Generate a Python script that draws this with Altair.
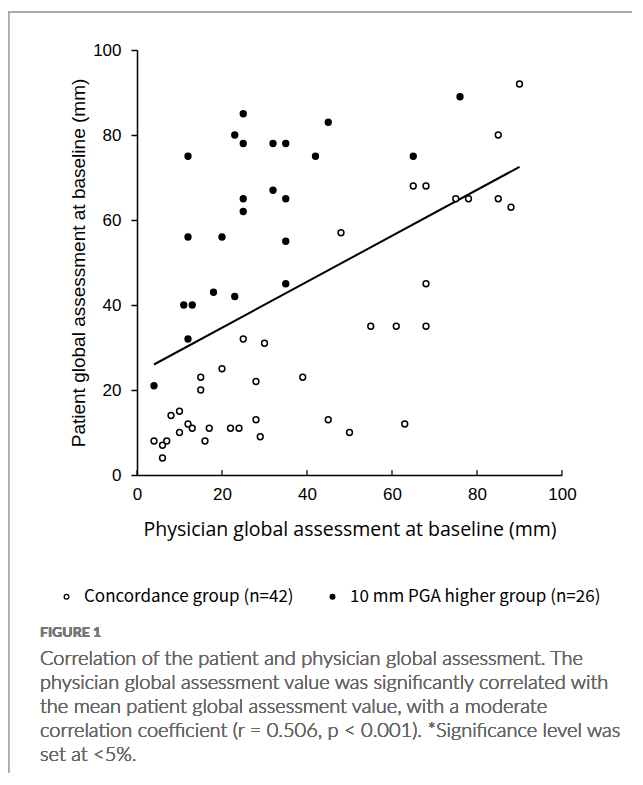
import altair as alt
import pandas as pd

# ---- data ----
conc_x = [90, 85, 65, 68, 75, 78, 85, 88, 48, 25, 30, 20, 15, 15, 28, 39, 8, 10, 12, 13,
          10, 17, 22, 24, 28, 29, 4, 6, 7, 16, 6, 45, 68, 55, 61, 68, 50, 63]
conc_y = [92, 80, 68, 68, 65, 65, 65, 63, 57, 32, 31, 25, 23, 20, 22, 23, 14, 15, 12, 11,
          10, 11, 11, 11, 13, 9, 8, 7, 8, 8, 4, 13, 45, 35, 35, 35, 10, 12]
high_x = [12, 25, 23, 25, 32, 35, 45, 42, 32, 25, 35, 25, 12, 20, 35, 76, 65, 11, 13, 18,
          23, 35, 12, 4]
high_y = [75, 85, 80, 78, 78, 78, 83, 75, 67, 65, 65, 62, 56, 56, 55, 89, 75, 40, 40, 43,
          42, 45, 32, 21]
fit_x = [4, 90]
fit_y = [26, 72.5]
tick_values = [0, 20, 40, 60, 80, 100]

group_names = ["Concordance group (n=42)", "10 mm PGA higher group (n=26)"]
x_title = "Physician global assessment at baseline (mm)"
y_title = "Patient global assessment at baseline (mm)"
fig_label = "FIGURE 1"
caption = ("Correlation of the patient and physician global assessment. The\n"
           "physician global assessment value was significantly correlated with\n"
           "the mean patient global assessment value, with a moderate\n"
           "correlation coefficient (r = 0.506, p < 0.001). *Significance level was\n"
           "set at <5%.")

pts = pd.DataFrame({
    "x": conc_x + high_x,
    "y": conc_y + high_y,
    "group": [group_names[0]] * len(conc_x) + [group_names[1]] * len(high_x),
})
fit = pd.DataFrame({"x": fit_x, "y": fit_y})
ticks = pd.DataFrame({"t": tick_values})

W, H = 425, 425
AX = "Liberation Sans"

xs = alt.Scale(domain=[0, 100], nice=False)
ys = alt.Scale(domain=[0, 100], nice=False)

points = alt.Chart(pts).mark_point(size=34, strokeWidth=1.5, opacity=1, stroke="black").encode(
    x=alt.X("x:Q", scale=xs, title=x_title,
            axis=alt.Axis(values=tick_values, ticks=False, tickSize=0, labelPadding=11,
                          labelFlush=False, titlePadding=18, titleFont="Open Sans",
                          titleFontSize=19.5, titleFontWeight="normal", titleColor="black")),
    y=alt.Y("y:Q", scale=ys, title=y_title,
            axis=alt.Axis(values=tick_values, tickSize=6, labelPadding=10, labelFlush=False,
                          titlePadding=4, titleFont=AX, titleFontSize=19,
                          titleFontWeight="normal", titleColor="black")),
    fill=alt.Fill("group:N", scale=alt.Scale(domain=group_names, range=["white", "black"]),
                  legend=alt.Legend(title=None, orient="none", direction="horizontal",
                                    legendX=-79, legendY=538, symbolSize=22,
                                    symbolStrokeColor="black", symbolStrokeWidth=1.3,
                                    symbolType="circle", labelFont="Noto Sans CJK JP",
                                    labelFontSize=17, labelColor="black", labelOffset=9,
                                    labelLimit=0, columnPadding=30)),
)

line = alt.Chart(fit).mark_line(color="black", strokeWidth=2).encode(
    x=alt.X("x:Q", scale=xs), y=alt.Y("y:Q", scale=ys))

xticks = alt.Chart(ticks).mark_rule(color="black", strokeWidth=1.2).encode(
    x=alt.X("t:Q", scale=xs), y=alt.value(H - 5), y2=alt.value(H))

border_top = alt.Chart(ticks).mark_rule(color="#aaaaaa", strokeWidth=1.5).encode(
    x=alt.value(-129), x2=alt.value(500), y=alt.value(-38))
border_left = alt.Chart(ticks).mark_rule(color="#aaaaaa", strokeWidth=1.5).encode(
    x=alt.value(-128.5), y=alt.value(-38), y2=alt.value(H + 320))

fig_text = alt.Chart(ticks).mark_text(
    text=fig_label, font="Lato", fontSize=14, fontWeight="bold", color="#777777",
    align="left", baseline="middle").encode(x=alt.value(-97), y=alt.value(583))

cap_text = alt.Chart(ticks).mark_text(
    text=caption, lineBreak="\n", lineHeight=24, font="Lato", fontSize=20, fontWeight=300,
    color="#666666", align="left", baseline="middle").encode(x=alt.value(-97), y=alt.value(609))

chart = alt.layer(border_top, border_left, line, points, xticks, fig_text, cap_text).properties(
    width=W, height=H,
    autosize=alt.AutoSizeParams(type="none"),
    padding={"left": 129, "top": 42, "right": 70, "bottom": 298},
).configure_view(stroke=None).configure_axis(
    grid=False, domainColor="black", domainWidth=1.5, tickColor="black", tickWidth=1.5,
    labelFont=AX, labelFontSize=17, labelColor="black",
)

chart.save("out.html", embed_options={"renderer": "svg", "actions": False})
